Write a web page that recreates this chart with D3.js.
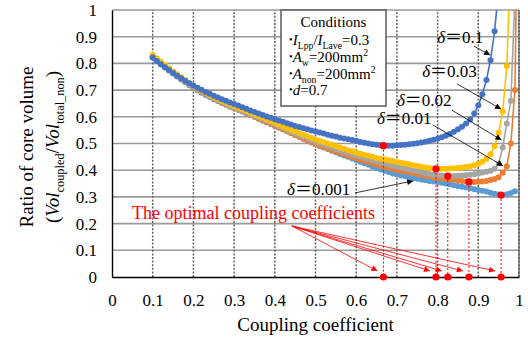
<!DOCTYPE html>
<html>
<head>
<meta charset="utf-8">
<script src="https://cdn.jsdelivr.net/npm/d3@7"></script>
<style>
  body { margin: 0; background: #fff; }
  svg { display: block; }
</style>
</head>
<body>
<div id="chart"></div>
<script>
// Coupling coefficient (x) sampled by the simulation
const coupling = [
  0.10, 0.11, 0.12, 0.13, 0.14, 0.15, 0.16, 0.17, 0.18, 0.19,
  0.20, 0.21, 0.22, 0.23, 0.24, 0.25, 0.26, 0.27, 0.28, 0.29,
  0.30, 0.31, 0.32, 0.33, 0.34, 0.35, 0.36, 0.37, 0.38, 0.39,
  0.40, 0.41, 0.42, 0.43, 0.44, 0.45, 0.46, 0.47, 0.48, 0.49,
  0.50, 0.51, 0.52, 0.53, 0.54, 0.55, 0.56, 0.57, 0.58, 0.59,
  0.60, 0.61, 0.62, 0.63, 0.64, 0.65, 0.66, 0.67, 0.68, 0.69,
  0.70, 0.71, 0.72, 0.73, 0.74, 0.75, 0.76, 0.77, 0.78, 0.79,
  0.80, 0.81, 0.82, 0.83, 0.84, 0.85, 0.86, 0.87, 0.88, 0.89,
  0.90, 0.91, 0.92, 0.93, 0.94, 0.95, 0.96, 0.97, 0.98, 0.99,
  0.995
];

// Ratio of core volume for each delta
const volD0001 = [
  .822,.809,.797,.785,.773,.762,.751,.740,.729,.718,
  .708,.699,.690,.682,.674,.666,.659,.652,.645,.638,
  .632,.626,.620,.613,.607,.600,.593,.586,.580,.573,
  .566,.560,.553,.546,.539,.532,.525,.518,.511,.504,
  .497,.491,.485,.479,.473,.467,.461,.455,.450,.444,
  .438,.432,.426,.420,.414,.408,.403,.398,.393,.388,
  .384,.380,.377,.374,.371,.368,.365,.362,.360,.358,
  .356,.353,.350,.347,.344,.341,.338,.335,.332,.329,
  .326,.323,.320,.316,.312,.309,.307,.310,.315,.321
];
const volD001 = [
  .825,.812,.800,.788,.776,.765,.754,.743,.732,.721,
  .710,.701,.692,.684,.676,.668,.661,.654,.647,.640,
  .633,.627,.621,.614,.608,.601,.594,.587,.580,.574,
  .567,.560,.553,.546,.539,.532,.525,.518,.511,.505,
  .498,.492,.487,.481,.476,.470,.465,.460,.455,.450,
  .445,.440,.435,.431,.426,.421,.417,.413,.409,.405,
  .401,.398,.395,.392,.389,.386,.383,.380,.377,.374,
  .372,.370,.368,.366,.364,.362,.360,.358,.357,.356,
  .357,.358,.360,.363,.367,.374,.390,.415,.500,.700,
  1.25
];
const volD002 = [
  .827,.814,.802,.790,.778,.767,.756,.745,.734,.723,
  .712,.703,.694,.686,.678,.670,.663,.656,.649,.642,
  .635,.629,.623,.617,.610,.604,.598,.591,.585,.578,
  .572,.565,.558,.551,.544,.538,.531,.525,.518,.512,
  .506,.500,.495,.489,.484,.479,.474,.469,.464,.459,
  .455,.450,.446,.442,.437,.433,.429,.425,.421,.417,
  .414,.410,.406,.403,.399,.396,.392,.389,.386,.383,
  .381,.380,.379,.378,.378,.379,.380,.381,.383,.385,
  .388,.391,.394,.398,.405,.425,.485,.575,.660,1.05
];
const volD003 = [
  .831,.818,.806,.794,.782,.770,.759,.748,.737,.726,
  .716,.707,.698,.690,.682,.674,.667,.660,.653,.646,
  .640,.634,.628,.622,.615,.609,.603,.597,.590,.584,
  .578,.571,.564,.557,.551,.545,.539,.533,.527,.521,
  .515,.510,.505,.500,.495,.490,.485,.480,.475,.471,
  .466,.462,.458,.454,.450,.446,.443,.440,.437,.434,
  .431,.428,.425,.422,.419,.416,.413,.410,.408,.406,
  .405,.405,.405,.406,.407,.408,.410,.412,.415,.419,
  .424,.432,.443,.460,.490,.540,.620,.790,1.20
];
const volD01 = [
  .822,.809,.797,.786,.775,.764,.754,.744,.735,.726,
  .717,.709,.701,.693,.686,.679,.672,.666,.660,.654,
  .648,.642,.636,.630,.624,.618,.612,.607,.601,.596,
  .591,.586,.581,.576,.571,.566,.562,.557,.553,.549,
  .545,.541,.537,.533,.529,.526,.522,.519,.516,.513,
  .510,.506,.503,.500,.497,.495,.493,.492,.492,.492,
  .493,.494,.495,.497,.499,.501,.504,.507,.510,.514,
  .518,.523,.529,.536,.544,.553,.563,.575,.590,.612,
  .643,.684,.738,.812,.920,1.08
];

// Optimal coupling coefficient of each curve (red points)
const optK = [0.667, 0.796, 0.825, 0.877, 0.956];
const optV = [0.492, 0.405, 0.378, 0.356, 0.307];

const xTicks = [0, 0.1, 0.2, 0.3, 0.4, 0.5, 0.6, 0.7, 0.8, 0.9, 1];
const xTickLabels = ["0", "0.1", "0.2", "0.3", "0.4", "0.5", "0.6", "0.7", "0.8", "0.9", "1"];
const yTicks = [0, 0.1, 0.2, 0.3, 0.4, 0.5, 0.6, 0.7, 0.8, 0.9, 1];
const yTickLabels = ["0", "0.1", "0.2", "0.3", "0.4", "0.5", "0.6", "0.7", "0.8", "0.9", "1"];

// drawn bottom to top
const seriesValues = [volD0001, volD001, volD002, volD003, volD01];
const seriesColors = ["#5B9BD5", "#ED7D31", "#A5A5A5", "#FFC000", "#4472C4"];

const serif = "'Liberation Serif', 'Times New Roman', 'Noto Sans CJK JP', serif";
const W = 528, H = 341;

const svg = d3.select("#chart").append("svg")
  .attr("width", W).attr("height", H)
  .attr("font-family", serif);

const x = d3.scaleLinear().domain([0, 1]).range([112, 519]);
const y = d3.scaleLinear().domain([0, 1]).range([277, 10]);

// arrow heads
const defs = svg.append("defs");
[["arrBlack", "#000"], ["arrRed", "#ff0000"]].forEach(([id, c]) => {
  defs.append("marker")
    .attr("id", id)
    .attr("viewBox", "0 0 10 10")
    .attr("refX", 10).attr("refY", 5)
    .attr("markerUnits", "userSpaceOnUse")
    .attr("markerWidth", 8).attr("markerHeight", 6)
    .attr("orient", "auto")
    .append("path").attr("d", "M0,0 L10,5 L0,10 z").attr("fill", c);
});
defs.append("clipPath").attr("id", "plotClip")
  .append("rect")
  .attr("x", x(0)).attr("y", y(1))
  .attr("width", x(1) - x(0)).attr("height", y(0) - y(1));

// grid
svg.append("g")
  .selectAll("line")
  .data(yTicks.slice(1))
  .join("line")
  .attr("x1", x(0)).attr("x2", x(1))
  .attr("y1", d => y(d)).attr("y2", d => y(d))
  .attr("stroke", "#9a9a9a")
  .attr("stroke-width", 1.6);

svg.append("g")
  .selectAll("line")
  .data(xTicks.slice(1))
  .join("line")
  .attr("x1", d => x(d)).attr("x2", d => x(d))
  .attr("y1", y(0)).attr("y2", y(1))
  .attr("stroke", "#606060")
  .attr("stroke-width", 1.5)
  .attr("stroke-dasharray", "2,1.6");

// plot border on the right
svg.append("line")
  .attr("x1", x(1)).attr("x2", x(1))
  .attr("y1", y(0)).attr("y2", y(1))
  .attr("stroke", "#555").attr("stroke-width", 1.2);

// axes
const yAxis = svg.append("g")
  .attr("transform", "translate(" + x(0) + ",0)")
  .call(d3.axisLeft(y).tickValues(yTicks)
    .tickFormat((d, i) => yTickLabels[i])
    .tickSize(0).tickPadding(15));
yAxis.attr("font-family", serif).attr("font-size", 17);
yAxis.select(".domain").attr("stroke", "#000").attr("stroke-width", 1.4);

const xAxis = svg.append("g")
  .attr("transform", "translate(0," + y(0) + ")")
  .call(d3.axisBottom(x).tickValues(xTicks)
    .tickFormat((d, i) => xTickLabels[i])
    .tickSize(0));
xAxis.attr("font-family", serif).attr("font-size", 17);
xAxis.selectAll("text").attr("y", 29).attr("dy", 0);
xAxis.select(".domain").attr("stroke", "#000").attr("stroke-width", 1.4);

// axis titles
svg.append("text")
  .attr("x", x(0.5)).attr("y", 331)
  .attr("text-anchor", "middle")
  .attr("font-size", 19)
  .text("Coupling coefficient");

// small helper for sub/superscript runs
function rich(sel, parts, size) {
  let shift = 0;
  parts.forEach(p => {
    const target = p.sub ? size * 0.28 : p.sup ? -size * 0.4 : p.small ? -size * 0.12 : 0;
    const fs = (p.sub || p.sup) ? size * 0.65 : p.small ? size * 0.7 : size;
    sel.append("tspan")
      .attr("dy", target - shift)
      .attr("font-size", fs)
      .attr("font-style", p.it ? "italic" : null)
      .text(p.t);
    shift = target;
  });
}

const yMid = 147;
svg.append("text")
  .attr("transform", "translate(33," + yMid + ") rotate(-90)")
  .attr("text-anchor", "middle")
  .attr("font-size", 19)
  .text("Ratio of core volume");
rich(svg.append("text")
  .attr("transform", "translate(59," + yMid + ") rotate(-90)")
  .attr("text-anchor", "middle")
  .attr("font-size", 19),
  [{ t: "(" }, { t: "Vol", it: true }, { t: "coupled", sub: true }, { t: "/" },
   { t: "Vol", it: true }, { t: "total_non", sub: true }, { t: ")" }], 19);

// conditions box
svg.append("rect")
  .attr("x", 281).attr("y", y(1))
  .attr("width", 105).attr("height", 96)
  .attr("fill", "#fff")
  .attr("stroke", "#595959").attr("stroke-width", 1.5);
svg.append("text")
  .attr("x", 333.5).attr("y", 27)
  .attr("text-anchor", "middle").attr("font-size", 15)
  .text("Conditions");
const condLines = [
  [{ t: "•", small: true }, { t: "I", it: true }, { t: "Lpp", sub: true }, { t: "/" }, { t: "I", it: true }, { t: "Lave", sub: true }, { t: "=0.3" }],
  [{ t: "•", small: true }, { t: "A", it: true }, { t: "w", sub: true }, { t: "=200mm" }, { t: "2", sup: true }],
  [{ t: "•", small: true }, { t: "A", it: true }, { t: "non", sub: true }, { t: "=200mm" }, { t: "2", sup: true }],
  [{ t: "•", small: true }, { t: "d", it: true }, { t: "=0.7" }]
];
const condY = [45, 62, 79, 95];
condLines.forEach((parts, i) => {
  rich(svg.append("text").attr("x", 289).attr("y", condY[i]).attr("font-size", 15), parts, 15);
});

// curves
const plot = svg.append("g").attr("clip-path", "url(#plotClip)");
const line = d3.line().x(d => x(d[0])).y(d => y(d[1]));
seriesValues.forEach((vals, s) => {
  const pts = vals.map((v, i) => [coupling[i], v]);
  const g = plot.append("g");
  g.append("path")
    .datum(pts)
    .attr("d", line)
    .attr("fill", "none")
    .attr("stroke", seriesColors[s])
    .attr("stroke-width", 1.6);
  g.selectAll("circle")
    .data(pts)
    .join("circle")
    .attr("cx", d => x(d[0])).attr("cy", d => y(d[1]))
    .attr("r", 3)
    .attr("fill", seriesColors[s]);
});

// optimal points
const red = "#ff0000";
svg.append("g").selectAll("line")
  .data(optK)
  .join("line")
  .attr("x1", d => x(d)).attr("x2", d => x(d))
  .attr("y1", (d, i) => y(optV[i])).attr("y2", y(0))
  .attr("stroke", red).attr("stroke-width", 1)
  .attr("stroke-dasharray", "2,2");
svg.append("g").selectAll("circle")
  .data(optK)
  .join("circle")
  .attr("cx", d => x(d)).attr("cy", (d, i) => y(optV[i]))
  .attr("r", 3.6).attr("fill", red);
svg.append("g").selectAll("circle")
  .data(optK)
  .join("circle")
  .attr("cx", d => x(d)).attr("cy", y(0))
  .attr("r", 3.6).attr("fill", red);

// red callout
svg.append("text")
  .attr("x", 132).attr("y", 219)
  .attr("fill", red).attr("font-size", 18)
  .text("The optimal coupling coefficients");
svg.append("g").selectAll("line")
  .data(optK)
  .join("line")
  .attr("x1", x(0.442)).attr("y1", y(0.191))
  .attr("x2", d => x(d) - 6).attr("y2", y(0.0225))
  .attr("stroke", red).attr("stroke-width", 0.8)
  .attr("marker-end", "url(#arrRed)");

// delta labels, positions in data units
const deltaText = ["0.1", "0.03", "0.02", "0.01", "0.001"];
const labelPos = [[0.799, 0.876], [0.762, 0.749], [0.700, 0.640], [0.651, 0.573], [0.430, 0.307]];
const arrowPos = [
  [0.889, 0.865, 0.929, 0.831],
  [0.848, 0.723, 0.956, 0.629],
  [0.835, 0.625, 0.957, 0.513],
  [0.789, 0.569, 0.961, 0.416],
  [0.597, 0.315, 0.740, 0.360]
];
deltaText.forEach((t, i) => {
  const tx = svg.append("text")
    .attr("x", x(labelPos[i][0])).attr("y", y(labelPos[i][1]))
    .attr("font-size", 17);
  tx.append("tspan").attr("font-style", "italic").text("δ");
  tx.append("tspan").text("＝" + t);
  const a = arrowPos[i];
  svg.append("line")
    .attr("x1", x(a[0])).attr("y1", y(a[1]))
    .attr("x2", x(a[2])).attr("y2", y(a[3]))
    .attr("stroke", "#000").attr("stroke-width", 0.8)
    .attr("marker-end", "url(#arrBlack)");
});
</script>
</body>
</html>
